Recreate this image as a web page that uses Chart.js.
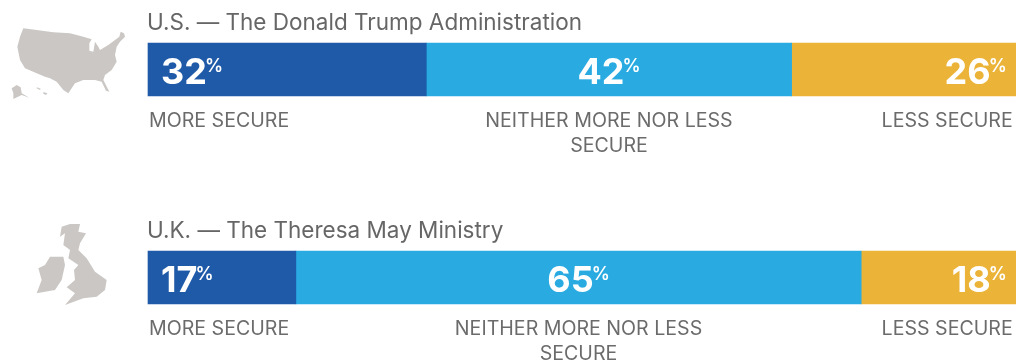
<!DOCTYPE html>
<html>
<head>
<meta charset="utf-8">
<title>Security perception</title>
<script src="https://cdn.jsdelivr.net/npm/chart.js@4"></script>
<style>
  html, body { margin: 0; padding: 0; background: #fff; }
  #wrap { position: relative; width: 1016px; height: 363px; }
</style>
</head>
<body>
<div id="wrap"><canvas id="securityChart"></canvas></div>
<script>
const countries = ['U.S. — The Donald Trump Administration', 'U.K. — The Theresa May Ministry'];
const moreSecure = [32, 17];
const neither = [42, 65];
const lessSecure = [26, 18];
const answerLabels = ['MORE SECURE', ['NEITHER MORE NOR LESS', 'SECURE'], 'LESS SECURE'];

const colors = ['#1f5aa8', '#29abe2', '#ebb337'];
const FONT = 'Inter, "Open Sans", sans-serif';

// country silhouettes, outlines traced at 3x
const usShapes = [
  [[70,85],[110,90],[160,97],[210,100],[250,110],[275,118],[268,130],[268,152],[280,155],[285,125],[295,140],[300,150],[325,135],[345,120],[358,110],[362,95],[372,100],[375,110],[360,125],[350,140],[345,165],[350,185],[335,210],[315,225],[310,240],[328,275],[318,272],[305,245],[285,240],[250,240],[225,250],[205,280],[190,270],[170,245],[150,235],[135,230],[110,220],[75,205],[60,180],[52,140],[60,110]],
  [[35,265],[50,255],[62,262],[65,280],[88,293],[65,285],[40,297],[40,280]],
  [[110,262],[122,266],[120,270],[110,265]],
  [[130,276],[142,280],[138,285],[130,281]]
];
const ukShapes = [
  [[210,672],[240,672],[235,695],[258,700],[240,730],[235,750],[260,775],[285,815],[320,840],[315,870],[290,890],[250,895],[195,915],[225,880],[200,862],[225,840],[222,810],[235,795],[205,775],[210,750],[190,735],[195,700],[180,710],[185,680]],
  [[150,770],[190,770],[195,795],[185,840],[165,870],[110,880],[125,840],[115,805],[135,795]]
];

function drawShapes(ctx, shapes) {
  ctx.fillStyle = '#cbc7c4';
  shapes.forEach(shape => {
    ctx.beginPath();
    shape.forEach((p, i) => {
      if (i === 0) ctx.moveTo(p[0] / 3, p[1] / 3);
      else ctx.lineTo(p[0] / 3, p[1] / 3);
    });
    ctx.closePath();
    ctx.fill();
  });
}

// big number with a small raised percent sign
function drawValue(ctx, value, x, y, align) {
  const num = String(value);
  ctx.fillStyle = '#fff';
  ctx.textAlign = 'left';
  ctx.textBaseline = 'alphabetic';
  ctx.font = '700 36px ' + FONT;
  const numW = ctx.measureText(num).width;
  ctx.font = '600 18px ' + FONT;
  const pctW = ctx.measureText('%').width;
  const total = numW + pctW - 2;
  let left = x;
  if (align === 'center') left = x - total / 2;
  if (align === 'right') left = x - total;
  ctx.font = '700 36px ' + FONT;
  ctx.fillText(num, left, y);
  ctx.font = '600 18px ' + FONT;
  ctx.fillText('%', left + numW - 2, y - 12);
}

const annotations = {
  id: 'annotations',
  afterDatasetsDraw(chart) {
    const { ctx, scales } = chart;
    const x = scales.x, y = scales.y;
    ctx.save();
    drawShapes(ctx, usShapes);
    drawShapes(ctx, ukShapes);

    countries.forEach((name, i) => {
      const cy = y.getPixelForValue(i);
      const a = x.getPixelForValue(moreSecure[i]);
      const b = x.getPixelForValue(moreSecure[i] + neither[i]);
      const c = x.getPixelForValue(moreSecure[i] + neither[i] + lessSecure[i]);

      ctx.fillStyle = '#666';
      ctx.textAlign = 'left';
      ctx.textBaseline = 'alphabetic';
      ctx.font = '400 22.5px ' + FONT;
      ctx.fillText(name, x.left - 1, cy - 40);

      drawValue(ctx, moreSecure[i], x.left + 13, cy + 14, 'left');
      drawValue(ctx, neither[i], (a + b) / 2, cy + 14, 'center');
      drawValue(ctx, lessSecure[i], c - 11, cy + 14, 'right');

      ctx.fillStyle = '#6b6b6b';
      ctx.font = '400 19.6px ' + FONT;
      ctx.textAlign = 'left';
      ctx.fillText(answerLabels[0], x.left + 1, cy + 57.5);
      ctx.textAlign = 'center';
      answerLabels[1].forEach((line, n) => ctx.fillText(line, (a + b) / 2, cy + 57.5 + n * 25));
      ctx.textAlign = 'right';
      ctx.fillText(answerLabels[2], c - 5, cy + 57.5);
    });
    ctx.restore();
  }
};

new Chart(document.getElementById('securityChart'), {
  type: 'bar',
  data: {
    labels: countries,
    datasets: [
      { label: 'More secure', data: moreSecure, backgroundColor: colors[0] },
      { label: 'Neither', data: neither, backgroundColor: colors[1] },
      { label: 'Less secure', data: lessSecure, backgroundColor: colors[2] }
    ]
  },
  options: {
    indexAxis: 'y',
    responsive: true,
    maintainAspectRatio: false,
    animation: false,
    layout: { padding: { left: 148, right: 0, top: 69.5, bottom: 85.5 } },
    datasets: { bar: { barThickness: 53, borderWidth: 0, clip: false } },
    plugins: { legend: { display: false }, tooltip: { enabled: false } },
    scales: {
      // bars run just past the right edge of the page
      x: { stacked: true, min: 0, max: 99.8, display: false },
      y: { stacked: true, display: false, offset: false }
    }
  },
  plugins: [annotations]
});
</script>
</body>
</html>
